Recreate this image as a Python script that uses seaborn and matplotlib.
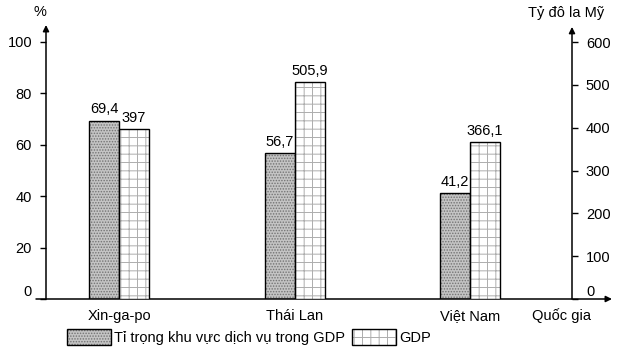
import matplotlib
matplotlib.use("Agg")
import matplotlib.pyplot as plt
import seaborn as sns
import pandas as pd

countries = ["Xin-ga-po", "Thái Lan", "Việt Nam"]
service_share = [69.4, 56.7, 41.2]
gdp = [397, 505.9, 366.1]
service_labels = ["69,4", "56,7", "41,2"]
gdp_labels = ["397", "505,9", "366,1"]
series = ["Tỉ trọng khu vực dịch vụ trong GDP", "GDP"]
left_ticks = [0, 20, 40, 60, 80, 100]
right_ticks = [0, 100, 200, 300, 400, 500, 600]

sns.set_theme(style="white")
plt.rcParams['font.family'] = ['Liberation Sans', 'DejaVu Sans']
plt.rcParams['text.color'] = 'black'
plt.rcParams['xtick.color'] = 'black'
plt.rcParams['ytick.color'] = 'black'
plt.rcParams['hatch.linewidth'] = 0.7

fig = plt.figure(figsize=(6.24, 3.54), dpi=100)
ax1 = fig.add_axes([46/624, 1-299/354, 526/624, 274/354])
ax2 = ax1.twinx()

df1 = pd.DataFrame({"country": countries, "value": service_share, "series": series[0]})
df2 = pd.DataFrame({"country": countries, "value": gdp, "series": series[1]})

common = dict(x="country", y="value", hue="series", hue_order=series, order=countries,
              width=0.342, palette=["#c4c4c4", "white"], edgecolor="black",
              linewidth=1, legend=False, errorbar=None, dodge=True)
sns.barplot(data=df1, ax=ax1, **common)
sns.barplot(data=df2, ax=ax2, **common)


def valid_container(ax):
    for c in ax.containers:
        if len(c) and all(b is not None for b in c):
            return c
    return None


c1 = valid_container(ax1)
c2 = valid_container(ax2)

for p in c1:
    p.set_hatch('......')
    p._hatch_color = (0.45, 0.45, 0.45, 1)
for p in c2:
    p.set_hatch('++')
    p._hatch_color = (0.68, 0.68, 0.68, 1)

ax1.set_xlim(-0.416, 2.58)
ax1.set_ylim(0, 106.6)
ax2.set_ylim(0, 640)
ax1.set_yticks(left_ticks)
ax2.set_yticks(right_ticks)
ax1.set_xlabel("")
ax1.set_ylabel("")
ax2.set_ylabel("")
ax2.set_xlabel("")

for s in ax1.spines.values():
    s.set_visible(False)
for s in ax2.spines.values():
    s.set_visible(False)

ax1.tick_params(axis='y', left=True, direction='out', length=4, width=1, labelsize=10.5, pad=6)
ax2.tick_params(axis='y', right=True, direction='out', length=4, width=1, labelsize=10.5, pad=6)
ax1.tick_params(axis='x', bottom=False, length=0, labelsize=10.5, pad=7)

# lift the zero labels slightly above the axis line, as in the reference
for lbl in (ax1.get_yticklabels()[0], ax2.get_yticklabels()[0]):
    lbl.set_verticalalignment('bottom')

ax1.bar_label(c1, labels=service_labels, padding=3, fontsize=10.5)
ax2.bar_label(c2, labels=gdp_labels, padding=3, fontsize=10.5)

arrow = dict(arrowstyle='-|>', color='black', lw=1.1, mutation_scale=9, shrinkA=0, shrinkB=0)
ax1.annotate('', xy=(1.076, 0), xytext=(-0.019, 0), xycoords='axes fraction',
             arrowprops=arrow, annotation_clip=False)
ax1.annotate('', xy=(0, 1.0), xytext=(0, 0), xycoords='axes fraction',
             arrowprops=arrow, annotation_clip=False)
ax1.annotate('', xy=(1, 0.993), xytext=(1, 0), xycoords='axes fraction',
             arrowprops=arrow, annotation_clip=False)

fig.text(40/624, 1-12/354, "%", ha='center', va='center', fontsize=10.5)
fig.text(566/624, 1-13/354, "Tỷ đô la Mỹ", ha='center', va='center', fontsize=10.5)
fig.text(561/624, 1-316/354, "Quốc gia", ha='center', va='center', fontsize=10.5)

fig.legend(handles=[c1[0], c2[0]], labels=series, ncol=2,
           loc='center', bbox_to_anchor=(249/624, 1-337/354), frameon=False,
           handlelength=3.0, handleheight=1.3, handletextpad=0.2, columnspacing=0.5,
           fontsize=10.5, borderpad=0)

fig.savefig("out.png", dpi=100)
